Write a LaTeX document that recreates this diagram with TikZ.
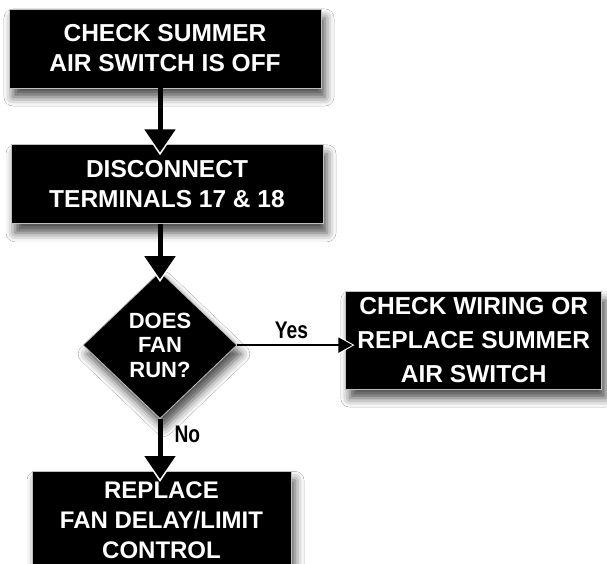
\documentclass[tikz,border=0pt]{standalone}
\usepackage{fontspec}
\setmainfont{Liberation Sans}
\usepackage{graphicx}
\usetikzlibrary{arrows.meta,positioning,shapes.geometric,shadows.blur}

\newcommand{\narrowtext}[1]{\scalebox{0.8}[1]{#1}}

\begin{document}
\begin{tikzpicture}[
  x=1pt,y=1pt,
  shade/.style={blur shadow={shadow xshift=4pt,shadow yshift=-9pt,
                shadow blur radius=9pt,shadow opacity=70}},
  stepbox/.style={fill=black,draw=black!25,line width=0.8pt,text=white,
                  align=center,inner sep=0pt,minimum width=312pt,
                  minimum height=79pt,shade,
                  font=\bfseries\fontsize{24.5pt}{30pt}\selectfont},
  decision/.style={diamond,aspect=1,fill=black,draw=black!25,line width=0.8pt,
                   text=white,align=center,inner sep=0pt,minimum width=154pt,
                   minimum height=147pt,shade,
                   font=\bfseries\fontsize{22pt}{24.5pt}\selectfont},
  flow/.style={draw=black,line width=5pt,
               -{Triangle[width=30pt,length=23pt]},shorten >=-8pt,
               preaction={draw=white,line width=5pt,
                          -{Triangle[width=36pt,length=28pt]},shorten >=-11pt}},
  yesflow/.style={draw=black,line width=1.8pt,
                  -{Triangle[width=15pt,length=14pt]},shorten >=-7pt,
                  preaction={draw=white,line width=1.8pt,
                             -{Triangle[width=19pt,length=17pt]},shorten >=-9pt}},
  lbl/.style={inner sep=2pt,font=\bfseries\fontsize{24pt}{24pt}\selectfont}
]
\useasboundingbox[fill=white] (0,0) rectangle (607,-564);

\node[stepbox] (check) at (165,-48.5) {CHECK SUMMER\\AIR SWITCH IS OFF};
\node[stepbox,below=56pt of check,xshift=2pt] (disconnect)
  {DISCONNECT\\TERMINALS 17 \& 18};
\node[decision,below=47pt of disconnect,xshift=-7pt] (fanrun) {DOES\\FAN\\RUN?};
\node[stepbox,right=108pt of fanrun,yshift=5pt,minimum width=256pt,
  minimum height=98pt,font=\bfseries\fontsize{24.5pt}{34pt}\selectfont] (rewire)
  {CHECK WIRING OR\\REPLACE SUMMER\\AIR SWITCH};
\node[stepbox,below=52pt of fanrun,xshift=1.5pt,minimum width=259pt,
  minimum height=98pt,font=\bfseries\fontsize{24pt}{30pt}\selectfont] (replace)
  {REPLACE\\FAN DELAY/LIMIT\\CONTROL};

\draw[flow] (check.south -| fanrun) -- (disconnect.north -| fanrun);
\draw[flow] (disconnect.south -| fanrun) -- (fanrun.north);
\draw[yesflow] (fanrun.east) -- node[lbl,above=3pt]{\narrowtext{Yes}}
  (fanrun.east -| rewire.west);
\draw[flow] (fanrun.south) -- node[lbl,right=10pt,pos=0.3]{\narrowtext{No}}
  (fanrun.south |- replace.north);
\end{tikzpicture}
\end{document}
